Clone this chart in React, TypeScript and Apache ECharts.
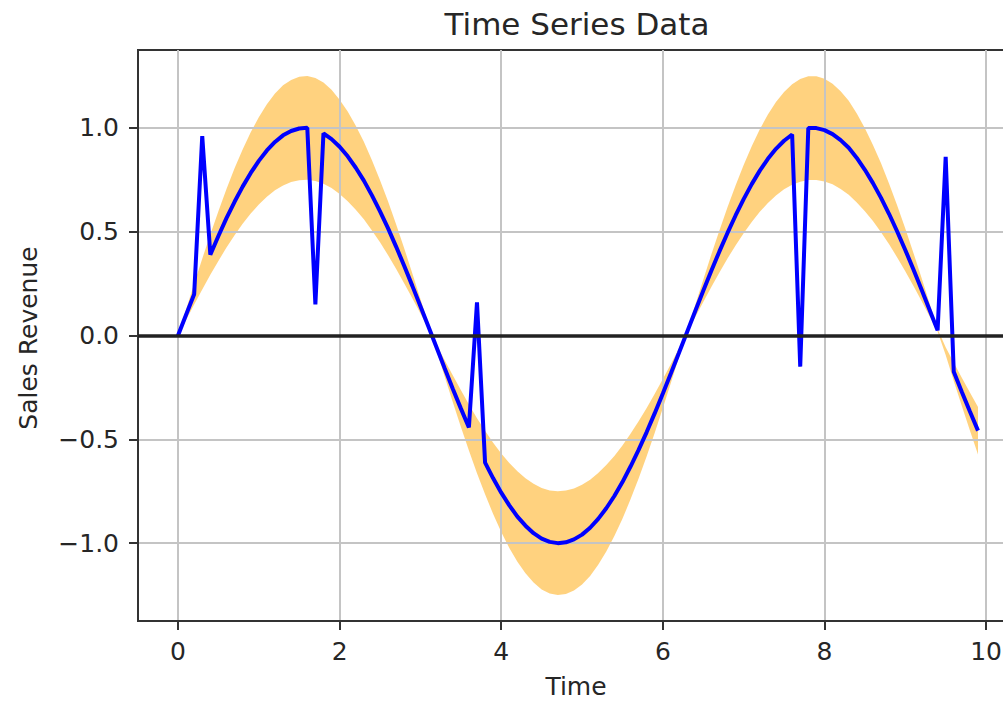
import React, { useEffect, useRef } from "react";
import * as echarts from "echarts";

const TIME = [
  0.0, 0.1, 0.2, 0.3, 0.4, 0.5, 0.6, 0.7, 0.8, 0.9,
  1.0, 1.1, 1.2, 1.3, 1.4, 1.5, 1.6, 1.7, 1.8, 1.9,
  2.0, 2.1, 2.2, 2.3, 2.4, 2.5, 2.6, 2.7, 2.8, 2.9,
  3.0, 3.1, 3.2, 3.3, 3.4, 3.5, 3.6, 3.7, 3.8, 3.9,
  4.0, 4.1, 4.2, 4.3, 4.4, 4.5, 4.6, 4.7, 4.8, 4.9,
  5.0, 5.1, 5.2, 5.3, 5.4, 5.5, 5.6, 5.7, 5.8, 5.9,
  6.0, 6.1, 6.2, 6.3, 6.4, 6.5, 6.6, 6.7, 6.8, 6.9,
  7.0, 7.1, 7.2, 7.3, 7.4, 7.5, 7.6, 7.7, 7.8, 7.9,
  8.0, 8.1, 8.2, 8.3, 8.4, 8.5, 8.6, 8.7, 8.8, 8.9,
  9.0, 9.1, 9.2, 9.3, 9.4, 9.5, 9.6, 9.7, 9.8, 9.9,
];

const REVENUE = [
  0.0, 0.1, 0.199, 0.96, 0.389, 0.479, 0.565, 0.644, 0.717, 0.783,
  0.841, 0.891, 0.932, 0.964, 0.985, 0.997, 1.0, 0.15, 0.974, 0.946,
  0.909, 0.863, 0.808, 0.746, 0.675, 0.598, 0.516, 0.427, 0.335, 0.239,
  0.141, 0.042, -0.058, -0.158, -0.256, -0.351, -0.443, 0.16, -0.612, -0.688,
  -0.757, -0.818, -0.872, -0.916, -0.952, -0.978, -0.994, -1.0, -0.996, -0.982,
  -0.959, -0.926, -0.883, -0.832, -0.773, -0.706, -0.631, -0.551, -0.465, -0.374,
  -0.279, -0.182, -0.083, 0.017, 0.117, 0.215, 0.312, 0.405, 0.494, 0.578,
  0.657, 0.729, 0.794, 0.851, 0.899, 0.938, 0.968, -0.15, 0.999, 0.999,
  0.989, 0.97, 0.941, 0.904, 0.855, 0.798, 0.734, 0.663, 0.585, 0.501,
  0.412, 0.319, 0.223, 0.124, 0.025, 0.86, -0.175, -0.272, -0.366, -0.458,
];

const BAND_LOW = [
  0.0, 0.075, 0.149, 0.222, 0.292, 0.359, 0.424, 0.483, 0.538, 0.587,
  0.631, 0.668, 0.699, 0.723, 0.739, 0.748, 0.75, 0.744, 0.731, 0.71,
  0.682, 0.647, 0.606, 0.56, 0.506, 0.449, 0.387, 0.32, 0.251, 0.179,
  0.106, 0.032, -0.073, -0.198, -0.32, -0.439, -0.554, -0.663, -0.765, -0.86,
  -0.946, -1.023, -1.09, -1.145, -1.19, -1.223, -1.243, -1.25, -1.245, -1.228,
  -1.199, -1.158, -1.104, -1.04, -0.966, -0.883, -0.789, -0.689, -0.581, -0.468,
  -0.349, -0.228, -0.104, 0.013, 0.088, 0.161, 0.234, 0.304, 0.371, 0.434,
  0.493, 0.547, 0.596, 0.638, 0.674, 0.704, 0.726, 0.741, 0.749, 0.749,
  0.742, 0.728, 0.706, 0.678, 0.641, 0.599, 0.551, 0.497, 0.439, 0.376,
  0.309, 0.239, 0.167, 0.093, 0.019, -0.094, -0.219, -0.34, -0.458, -0.573,
];

const BAND_HIGH = [
  0.0, 0.125, 0.249, 0.37, 0.486, 0.599, 0.706, 0.805, 0.896, 0.979,
  1.051, 1.114, 1.165, 1.205, 1.231, 1.246, 1.25, 1.24, 1.218, 1.183,
  1.136, 1.079, 1.01, 0.933, 0.844, 0.748, 0.645, 0.534, 0.419, 0.299,
  0.176, 0.053, -0.044, -0.119, -0.192, -0.263, -0.332, -0.398, -0.459, -0.516,
  -0.568, -0.614, -0.654, -0.687, -0.714, -0.734, -0.746, -0.75, -0.747, -0.737,
  -0.719, -0.695, -0.662, -0.624, -0.58, -0.53, -0.473, -0.413, -0.349, -0.281,
  -0.209, -0.137, -0.062, 0.021, 0.146, 0.269, 0.39, 0.506, 0.618, 0.723,
  0.821, 0.911, 0.993, 1.064, 1.124, 1.173, 1.21, 1.235, 1.249, 1.249,
  1.236, 1.213, 1.176, 1.13, 1.069, 0.998, 0.918, 0.829, 0.731, 0.626,
  0.515, 0.399, 0.279, 0.155, 0.031, -0.056, -0.131, -0.204, -0.275, -0.344,
];

const X_TICKS = [0, 2, 4, 6, 8, 10];
const Y_TICKS = [-1.0, -0.5, 0.0, 0.5, 1.0];
const TITLE = "Time Series Data";
const X_NAME = "Time";
const Y_NAME = "Sales Revenue";

const FONT = "DejaVu Sans";
const TEXT_COLOR = "#262626";
const SPINE = "#333333";
const GRID_COLOR = "#c4c4c4";

export default function App() {
  const ref = useRef<HTMLDivElement>(null);

  useEffect(() => {
    if (!ref.current) return;
    const chart = echarts.init(ref.current, undefined, { renderer: "svg" });

    const bandData = TIME.map((t, i) => [t, BAND_LOW[i], BAND_HIGH[i]]);
    const revData = TIME.map((t, i) => [t, REVENUE[i]]);

    const fmt = (v: number) => v.toFixed(1).replace("-", "\u2212");

    const renderBand = (params: any, api: any) => {
      if (params.dataIndex !== 0) return null;
      const pts: number[][] = [];
      for (let i = 0; i < TIME.length; i++) {
        pts.push(api.coord([TIME[i], BAND_HIGH[i]]));
      }
      for (let i = TIME.length - 1; i >= 0; i--) {
        pts.push(api.coord([TIME[i], BAND_LOW[i]]));
      }
      return {
        type: "polygon",
        shape: { points: pts },
        style: { fill: "rgba(255,165,0,0.5)", stroke: "none" },
        silent: true,
      };
    };

    chart.setOption({
      animation: false,
      backgroundColor: "#ffffff",
      grid: {
        left: 138,
        top: 50,
        width: 880,
        height: 571,
        show: true,
        borderColor: SPINE,
        borderWidth: 2,
        backgroundColor: "transparent",
        containLabel: false,
      },
      xAxis: {
        type: "value",
        min: -0.495,
        max: 10.395,
        axisLine: { show: true, onZero: false, lineStyle: { color: SPINE, width: 2 } },
        axisTick: {
          show: true,
          length: 9,
          customValues: X_TICKS,
          lineStyle: { color: SPINE, width: 2 },
        },
        axisLabel: {
          customValues: X_TICKS,
          margin: 18,
          fontFamily: FONT,
          fontSize: 25,
          color: TEXT_COLOR,
          formatter: (v: number) => String(v),
        },
        splitLine: { show: true, lineStyle: { color: GRID_COLOR, width: 2 } },
      },
      yAxis: {
        type: "value",
        min: -1.375,
        max: 1.375,
        axisLine: { show: true, onZero: false, lineStyle: { color: SPINE, width: 2 } },
        axisTick: {
          show: true,
          length: 9,
          customValues: Y_TICKS,
          lineStyle: { color: SPINE, width: 2 },
        },
        axisLabel: {
          customValues: Y_TICKS,
          margin: 19,
          fontFamily: FONT,
          fontSize: 25,
          color: TEXT_COLOR,
          formatter: fmt,
        },
        splitLine: { show: true, lineStyle: { color: GRID_COLOR, width: 2 } },
      },
      series: [
        {
          type: "custom",
          name: "band",
          data: bandData,
          encode: { x: 0, y: [1, 2] },
          renderItem: renderBand,
          silent: true,
          z: -1,
        },
        {
          type: "line",
          name: "revenue",
          data: revData,
          showSymbol: false,
          symbol: "none",
          lineStyle: { color: "#0000ff", width: 4 },
          z: 3,
        },
        {
          type: "line",
          name: "zero",
          data: [],
          silent: true,
          z: 4,
          markLine: {
            silent: true,
            symbol: ["none", "none"],
            label: { show: false },
            lineStyle: { color: "#222222", width: 3.5, type: "solid" },
            data: [{ yAxis: 0 }],
            z: 4,
          },
        },
      ],
      graphic: [
        {
          type: "text",
          x: 577,
          y: 24,
          style: {
            text: TITLE,
            fontFamily: FONT,
            fontSize: 31,
            fill: TEXT_COLOR,
            align: "center",
            verticalAlign: "middle",
          },
        },
        {
          type: "text",
          x: 576,
          y: 686,
          style: {
            text: X_NAME,
            fontFamily: FONT,
            fontSize: 25,
            fill: TEXT_COLOR,
            align: "center",
            verticalAlign: "middle",
          },
        },
        {
          type: "text",
          x: 28,
          y: 338,
          rotation: Math.PI / 2,
          style: {
            text: Y_NAME,
            fontFamily: FONT,
            fontSize: 25,
            fill: TEXT_COLOR,
            align: "center",
            verticalAlign: "middle",
          },
        },
      ],
    });

    return () => chart.dispose();
  }, []);

  return (
    <div
      style={{
        position: "absolute",
        left: 0,
        top: 0,
        width: 1003,
        height: 701,
        overflow: "hidden",
        background: "#ffffff",
      }}
    >
      <div ref={ref} style={{ width: 1020, height: 701 }} />
    </div>
  );
}
